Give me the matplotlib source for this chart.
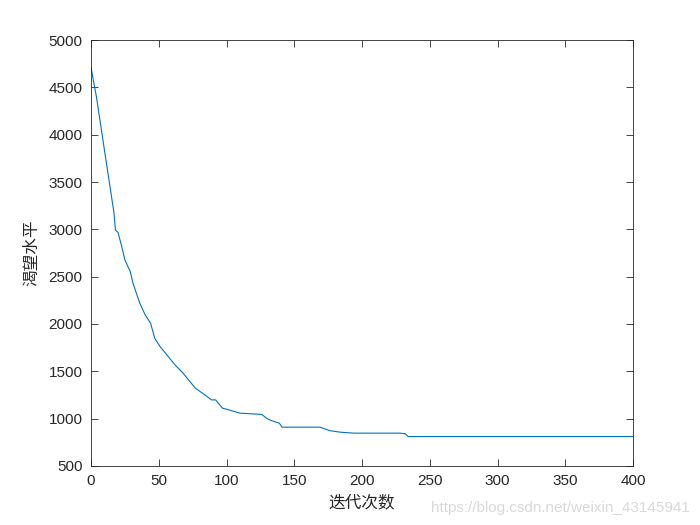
import matplotlib
matplotlib.use("Agg")
import matplotlib.pyplot as plt

# values
iters = [0, 4, 10, 17, 18, 20, 23, 25, 29, 31, 36, 40, 44, 47, 51, 57, 62, 68,
         73, 77, 84, 89, 92, 97, 100, 106, 110, 126, 130, 133, 139, 141, 169,
         176, 184, 194, 228, 232, 234, 400]
desire = [4710, 4400, 3830, 3170, 2994, 2965, 2800, 2677, 2553, 2431, 2219,
          2096, 2008, 1850, 1761, 1656, 1568, 1480, 1392, 1322, 1251, 1198,
          1198, 1111, 1100, 1075, 1058, 1045, 1000, 980, 952, 910, 910, 874,
          857, 847, 847, 840, 811, 811]
xticks = [0, 50, 100, 150, 200, 250, 300, 350, 400]
yticks = [500, 1000, 1500, 2000, 2500, 3000, 3500, 4000, 4500, 5000]

cjk = ["Noto Sans CJK SC", "DejaVu Sans"]
plt.rcParams["font.family"] = ["Liberation Sans", "DejaVu Sans"]

fig = plt.figure(figsize=(7, 5.25), dpi=100)
ax = fig.add_axes([0.13, 0.1124, 0.7743, 0.8114])
ax.plot(iters, desire, color="#0072BD", linewidth=0.8)
ax.set_xlim(0, 400)
ax.set_ylim(500, 5000)
ax.set_xticks(xticks)
ax.set_yticks(yticks)
ax.tick_params(direction="in", top=True, right=True, length=5, width=0.6,
               colors="#262626", labelsize=11, pad=6)
for s in ax.spines.values():
    s.set_color("#262626")
    s.set_linewidth(0.6)
ax.set_xlabel("迭代次数", family=cjk, fontsize=12, color="#262626", labelpad=4)
ax.set_ylabel("渴望水平", family=cjk, fontsize=12, color="#262626", labelpad=6)
fig.text(0.985, 0.032, "https://blog.csdn.net/weixin_43145941", ha="right",
         va="center", fontsize=11, color="#d8d8d8")
fig.savefig("out.png", dpi=100, facecolor="white")
